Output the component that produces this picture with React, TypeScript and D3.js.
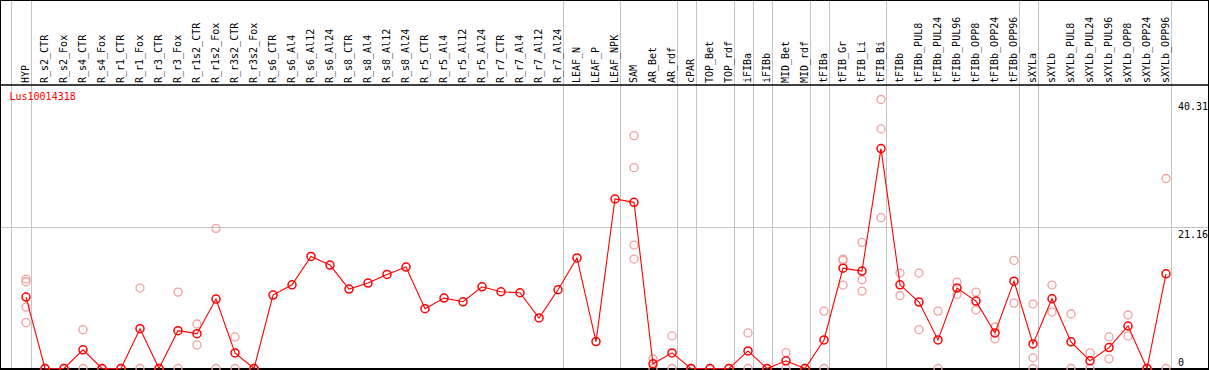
import React from "react";
import * as d3 from "d3";

const categories = [
  "HYP", "R_s2_CTR", "R_s2_Fox", "R_s4_CTR", "R_s4_Fox", "R_r1_CTR", "R_r1_Fox", "R_r3_CTR", "R_r3_Fox",
  "R_r1s2_CTR", "R_r1s2_Fox", "R_r3s2_CTR", "R_r3s2_Fox", "R_s6_CTR", "R_s6_Al4", "R_s6_Al12", "R_s6_Al24",
  "R_s8_CTR", "R_s8_Al4", "R_s8_Al12", "R_s8_Al24", "R_r5_CTR", "R_r5_Al4", "R_r5_Al12", "R_r5_Al24",
  "R_r7_CTR", "R_r7_Al4", "R_r7_Al12", "R_r7_Al24", "LEAF_N", "LEAF_P", "LEAF_NPK", "SAM", "AR_Bet", "AR_rdf",
  "cPAR", "TOP_Bet", "TOP_rdf", "iFIBa", "iFIBb", "MID_Bet", "MID_rdf", "tFIBa", "tFIB_Gr", "tFIB_Li", "tFIB_Bi",
  "tFIBb", "tFIBb_PUL8", "tFIBb_PUL24", "tFIBb_PUL96", "tFIBb_OPP8", "tFIBb_OPP24", "tFIBb_OPP96",
  "sXYLa", "sXYLb", "sXYLb_PUL8", "sXYLb_PUL24", "sXYLb_PUL96", "sXYLb_OPP8", "sXYLb_OPP24", "sXYLb_OPP96",
];

const means = [
  10.7, 0, 0, 2.8, 0, 0, 5.97, 0, 5.67,
  5.22, 10.4, 2.34, 0, 11.0, 12.54, 16.8, 15.5,
  11.9, 12.8, 14.1, 15.2, 8.96, 10.55, 10.0, 12.24,
  11.5, 11.35, 7.57, 11.8, 16.57, 4.03, 25.4, 24.9, 0.7, 2.34,
  0, 0, 0, 2.64, 0, 1.15, 0, 4.28, 15.03, 14.6, 32.95,
  12.54, 9.96, 4.28, 12.05, 10.1, 5.33, 13.09,
  3.68, 10.45, 3.99, 1.15, 3.13, 6.37, 0, 14.18,
];

const replicates: number[][] = [
  [13.4, 13.0, 9.2, 6.87], [0, 0], [0, 0], [5.82, 0], [0, 0], [0, 0], [12.05, 0], [0, 0], [11.45, 0],
  [6.67, 3.53], [21.0, 0], [4.73, 0], [0, 0], [], [], [], [],
  [], [], [], [], [], [], [], [],
  [], [], [], [], [], [], [], [34.9, 30.1, 18.5, 16.4], [1.45, 0], [4.88, 0],
  [0, 0], [0, 0], [0, 0], [5.33, 0], [0, 0], [2.39, 0], [0, 0], [8.6, 0], [16.4, 16.2, 12.5], [18.9, 13.3, 11.6], [40.31, 35.9, 22.6],
  [14.3, 10.9], [14.3, 5.82], [8.6, 0], [12.94, 11.1], [11.45, 8.76], [6.22, 4.43], [16.2, 9.8],
  [9.66, 1.6, 0], [12.5, 8.46], [8.17, 0], [2.34, 0], [4.73, 1.45], [8.02, 4.88], [0, 0], [28.47, 0],
];

// indices of the last column in each group (a separator is drawn after each)
const groupEnds = [0, 28, 31, 34, 35, 37, 38, 39, 41, 42, 45, 52, 53, 60];
const tickValues = [0, 21.16, 40.31];
const geneName = "Lus10014318";

const W = 1209;
const H = 370;

export default function App() {
  const x = d3.scalePoint<string>().domain(categories).range([26, 1166]).padding(0);
  const step = x.step();
  const y = d3.scaleLinear().domain([0, 40.31]).range([368.5, 99.5]);
  const line = d3
    .line<number>()
    .x((_, i) => x(categories[i]) as number)
    .y((d) => y(d));

  const font = "'DejaVu Sans Mono', monospace";
  const gridColor = "#c4c4c4";
  const sepXs = [x(categories[0])! - step + 3.5, ...groupEnds.map((i) => x(categories[i])! + 4.5)];

  return (
    <svg
      width={W}
      height={H}
      style={{ position: "absolute", left: 0, top: 0, background: "#fff" }}
      fontFamily={font}
      fontSize={10}
    >
      <rect x={0} y={0} width={W} height={H} fill="#fff" />
      {/* vertical group separators */}
      {sepXs.map((sx, i) => (
        <line key={"s" + i} x1={Math.round(sx) + 0.5} x2={Math.round(sx) + 0.5} y1={0} y2={H} stroke={gridColor} strokeWidth={1} />
      ))}
      {/* mid horizontal gridline */}
      <line x1={0} x2={1208} y1={Math.round(y(21.16)) + 0.5} y2={Math.round(y(21.16)) + 0.5} stroke={gridColor} strokeWidth={1} />
      {/* frame */}
      <line x1={0} x2={1209} y1={0.5} y2={0.5} stroke="#000" strokeWidth={1} />
      <line x1={0.5} x2={0.5} y1={0} y2={H} stroke="#000" strokeWidth={1} />
      <line x1={1208.5} x2={1208.5} y1={0} y2={H} stroke="#000" strokeWidth={1} />
      <line x1={0} x2={1209} y1={85} y2={85} stroke="#000" strokeWidth={1.3} />
      <line x1={0} x2={1209} y1={369} y2={369} stroke="#000" strokeWidth={2} />
      {/* header labels */}
      {categories.map((c) => (
        <text key={"l" + c} transform={`translate(${(x(c) as number) + 3},83) rotate(-90)`} fill="#000">
          {c}
        </text>
      ))}
      {/* gene name */}
      <text x={9.5} y={100} fill="#ff0000">
        {geneName}
      </text>
      {/* y labels */}
      {tickValues.map((t) => (
        <text key={"t" + t} x={1178} y={t === 0 ? y(0) - 2.5 : y(t) + 10.5} fill="#000">
          {t === 0 ? "0" : t.toFixed(2)}
        </text>
      ))}
      {/* replicates */}
      {replicates.map((reps, i) =>
        reps.map((v, j) => (
          <circle key={`r${i}-${j}`} cx={x(categories[i])} cy={y(v)} r={4} fill="none" stroke="#f0a0a0" strokeWidth={1.3} />
        ))
      )}
      {/* mean line */}
      <path d={line(means) || ""} fill="none" stroke="#ff0000" strokeWidth={1.1} />
      {means.map((v, i) => (
        <circle key={"m" + i} cx={x(categories[i])} cy={y(v)} r={4} fill="none" stroke="#ff0000" strokeWidth={1.5} />
      ))}
    </svg>
  );
}
